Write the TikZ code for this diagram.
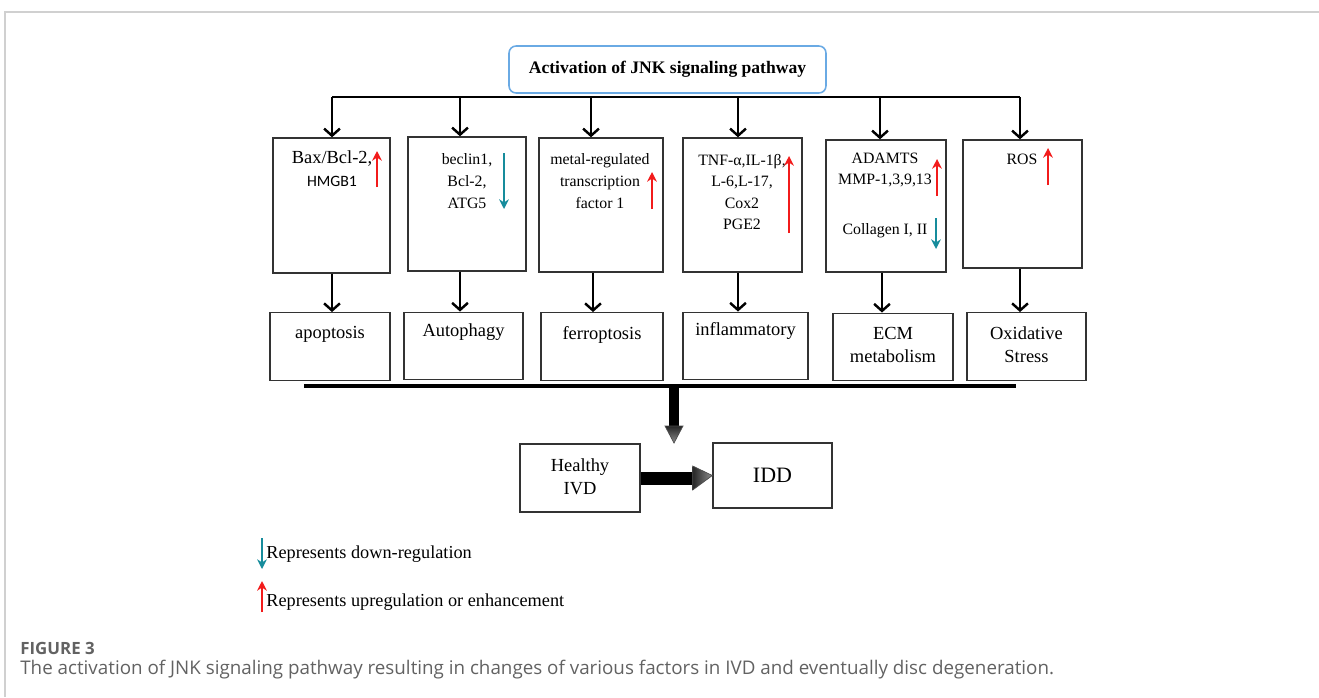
\documentclass[tikz,border=0pt]{standalone}
\usepackage{fontspec}
\setmainfont{Liberation Serif}
\newfontfamily\capfont{Open Sans}
\newfontfamily\calfont{Carlito}
\usepackage{tikz}
\usetikzlibrary{arrows.meta,positioning,calc}
\usepackage{xcolor}
\definecolor{titleblue}{HTML}{6AAAE4}
\definecolor{downteal}{HTML}{168C9C}
\definecolor{upred}{HTML}{F21B1B}
\definecolor{capgray}{HTML}{626262}
\definecolor{framegray}{HTML}{D0D0D0}

\begin{document}
\begin{tikzpicture}[x=0.02cm, y=-0.02cm,
    box/.style={draw=black!80, line width=0.8pt, inner sep=0pt},
    upbox/.style={box, minimum width=2.38cm, minimum height=2.68cm},
    lowbox/.style={box, minimum width=2.40cm, minimum height=1.35cm},
    intxt/.style={font=\fontsize{9}{12.3}\selectfont, align=center, inner sep=0pt},
    outtxt/.style={font=\fontsize{10.5}{13}\selectfont, align=center, inner sep=0pt},
    flow/.style={line width=1.4pt, -{Straight Barb[length=4pt,width=9pt,line width=1.4pt]}},
    upx/.style={upred, line width=1.1pt, -{Stealth[length=5.5pt,width=5.5pt]}},
    downx/.style={downteal, line width=1.1pt, -{Stealth[length=5.5pt,width=5.5pt]}}]
    \useasboundingbox (0,0) rectangle (1319,697);

    % Frame
    \draw[framegray, line width=1.1pt] (1319,12) -- (5,12) -- (5,697);

    % Title
    \node[draw=titleblue, line width=0.9pt, rounded corners=4pt, minimum width=6.34cm,
          minimum height=0.94cm, font=\fontsize{10}{12}\selectfont\bfseries] (Title) at (667.5,69.5)
          {Activation of JNK signaling pathway};

    % Branch line
    \coordinate (J1) at (332,97);
    \coordinate (J2) at (460,97);
    \coordinate (J3) at (591,97);
    \coordinate (J4) at (738,97);
    \coordinate (J5) at (880,97);
    \coordinate (J6) at (1020,97);
    \draw[line width=1.6pt] (J1) -- (J6);

    % Factor boxes
    \node[upbox, minimum width=2.34cm, minimum height=2.70cm] (B1) at (331.5,205.5) {};
    \node[upbox, minimum width=2.36cm] (B2) at (467,204) {};
    \node[upbox, minimum width=2.48cm] (B3) at (601,205) {};
    \node[upbox] (B4) at (742.5,205) {};
    \node[upbox, minimum width=2.40cm, minimum height=2.64cm] (B5) at (886,206) {};
    \node[upbox, minimum height=2.56cm] (B6) at (1022.5,204) {};

    \draw[flow] (J1) -- (J1 |- B1.north);
    \draw[flow] (J2) -- (J2 |- B2.north);
    \draw[flow] (J3) -- (J3 |- B3.north);
    \draw[flow] (J4) -- (J4 |- B4.north);
    \draw[flow] (J5) -- (J5 |- B5.north);
    \draw[flow] (J6) -- (J6 |- B6.north);

    % Box texts
    \node[intxt, font=\fontsize{10.5}{12}\selectfont] (Bax) at (332,159) {Bax/Bcl-2,};
    \node[intxt, font=\fontsize{9}{10}\calfont] (Hmg) at (332,181) {HMGB1};
    \draw[upx] (377,187) -- (377,151);

    \node[intxt] (Bec) at (467,181) {beclin1,\\Bcl-2,\\ATG5};
    \draw[downx] (504,153) -- (504,209);

    \node[intxt] (Mrt) at (600,181) {metal-regulated\\transcription\\factor 1};
    \draw[upx] (652,209) -- (652,172);

    \node[intxt] (Tnf) at (742,192) {TNF-α,IL-1β,\\L-6,L-17,\\Cox2\\PGE2};
    \draw[upx] (789,233) -- (789,156);

    \node[intxt] (Ada) at (885,170) {ADAMTS\\MMP-1,3,9,13};
    \draw[upx] (937,196) -- (937,159);
    \node[intxt] (Col) at (885,231) {Collagen I, II};
    \draw[downx] (936,218) -- (936,249);

    \node[intxt] (Ros) at (1022,159) {ROS};
    \draw[upx] (1048,185) -- (1048,148);

    % Outcome boxes
    \node[lowbox] (L1) at (330,346.5) {};
    \node[lowbox, minimum width=2.38cm] (L2) at (463.5,346) {};
    \node[lowbox, minimum width=2.44cm] (L3) at (602,346.5) {};
    \node[lowbox, minimum width=2.50cm] (L4) at (745.5,346) {};
    \node[lowbox] (L5) at (893,347) {};
    \node[lowbox, minimum width=2.38cm] (L6) at (1026.5,346.5) {};

    \draw[flow] (B1.south -| J1) -- (L1.north -| J1);
    \draw[flow] (B2.south -| J2) -- (L2.north -| J2);
    \draw[flow] ($(B3.south -| J3)+(2,0)$) -- ($(L3.north -| J3)+(2,0)$);
    \draw[flow] (B4.south -| J4) -- (L4.north -| J4);
    \draw[flow] ($(B5.south -| J5)+(2,0)$) -- ($(L5.north -| J5)+(2,0)$);
    \draw[flow] (B6.south -| J6) -- (L6.north -| J6);

    \node[outtxt] (Apo) at (330,334) {apoptosis};
    \node[outtxt] (Aut) at (463.5,332) {Autophagy};
    \node[outtxt] (Fer) at (602,335) {ferroptosis};
    \node[outtxt] (Inf) at (745.5,331) {inflammatory};
    \node[outtxt] (Ecm) at (893,345) {ECM\\metabolism};
    \node[outtxt] (Oxi) at (1026.5,345) {Oxidative\\Stress};

    % Collecting bar and fat arrow down
    \coordinate (K1) at (304,386);
    \coordinate (K2) at (1016,386);
    \coordinate (K0) at (674,386);
    \draw[line width=1.8pt] (K1) -- (K2);
    \fill[black] ($(K0)+(-5,0)$) rectangle ($(K0)+(5,42)$);
    \shade[top color=black!85, bottom color=black!45, draw=black!70, line width=0.4pt]
        ($(K0)+(-9,40)$) -- ($(K0)+(9,40)$) -- ($(K0)+(0,57)$) -- cycle;

    % Healthy IVD to IDD
    \node[box, minimum width=2.40cm, minimum height=1.36cm] (H) at (580,478) {};
    \node[outtxt, font=\fontsize{10.5}{13.2}\selectfont] (Ht) at (580,477) {Healthy\\IVD};
    \node[box, minimum width=2.38cm, minimum height=1.30cm, font=\fontsize{12.5}{14}\selectfont]
        (D) at (772.5,475.5) {IDD};
    \fill[black] ($(H.east)+(0,-6.5)$) rectangle ($(H.east)+(54,6.5)$);
    \shade[left color=black!85, right color=black!45, draw=black!70, line width=0.4pt]
        ($(H.east)+(52,-12)$) -- ($(H.east)+(52,12)$) -- (D.west) -- cycle;

    % Legend
    \draw[downx] (262,538) -- (262,569);
    \node[anchor=west, inner sep=0pt, font=\fontsize{10.4}{12}\selectfont] (Dn) at (266,554)
        {Represents down-regulation};
    \draw[upx] (262,612) -- (262,581);
    \node[anchor=west, inner sep=0pt, font=\fontsize{10.4}{12}\selectfont] (Up) at (266,602)
        {Represents upregulation or enhancement};

    % Caption
    \node[anchor=west, inner sep=0pt, text=capgray, font=\fontsize{9.6}{11}\capfont\bfseries]
        (Fig) at (20,648) {FIGURE 3};
    \node[anchor=west, inner sep=0pt, text=capgray, font=\fontsize{10.7}{12}\capfont]
        (Cap) at (20,670) {The activation of JNK signaling pathway resulting in changes of various factors in IVD and eventually disc degeneration.};
\end{tikzpicture}
\end{document}
